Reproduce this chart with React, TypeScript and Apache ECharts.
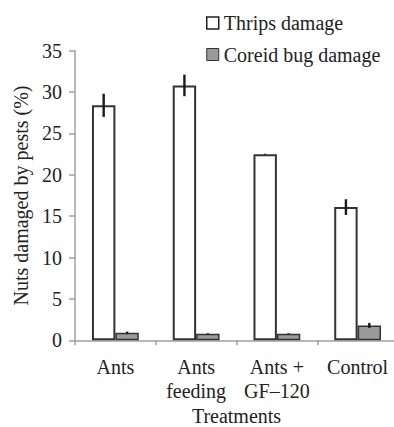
import React, { useEffect, useRef } from "react";
import * as echarts from "echarts";

const categories = ["Ants", "Ants\nfeeding", "Ants +\nGF–120", "Control"];
const thrips = [28.4, 30.8, 22.5, 16.1];
const thripsErr = [1.4, 1.3, 0.05, 0.95];
const coreid = [0.9, 0.8, 0.8, 1.8];
const coreidErr = [0.15, 0.05, 0.05, 0.3];
const yTicks = [0, 5, 10, 15, 20, 25, 30, 35];

const FONT = "Liberation Serif";
const BAR_W = 23.4;

function errSeries(name: string, vals: number[], errs: number[], dir: number) {
  return {
    type: "custom",
    name: name + " err",
    z: 10,
    data: vals.map((v, i) => [i, v, errs[i]]),
    renderItem: (params: any, api: any) => {
      const i = api.value(0);
      const v = api.value(1);
      const e = api.value(2);
      const top = api.coord([i, v + e]);
      const bot = api.coord([i, v - e]);
      const x = top[0] + dir * BAR_W / 2;
      return {
        type: "line",
        shape: { x1: x, y1: top[1], x2: x, y2: bot[1] },
        style: { stroke: "#1a1a1a", lineWidth: 2.4 },
      };
    },
    silent: true,
  };
}

export default function App() {
  const ref = useRef<HTMLDivElement>(null);
  useEffect(() => {
    document.body.style.margin = "0";
    const chart = echarts.init(ref.current!, null, { renderer: "svg" });
    chart.setOption({
      animation: false,
      textStyle: { fontFamily: FONT },
      legend: {
        orient: "vertical",
        left: 206,
        top: 13,
        padding: 0,
        itemWidth: 12,
        itemHeight: 12,
        itemGap: 11.5,
        textStyle: { fontFamily: FONT, fontSize: 20, color: "#222" },
        data: [
          { name: "Thrips damage", icon: "rect", itemStyle: { color: "#fff", borderColor: "#222", borderWidth: 1.5 } },
          { name: "Coreid bug damage", icon: "rect", itemStyle: { color: "#9a9a9c", borderColor: "#333", borderWidth: 1 } },
        ],
      },
      grid: { left: 75, top: 50.7, bottom: 86.7, right: -4, containLabel: false, outerBoundsMode: "none" },
      xAxis: {
        type: "category",
        data: categories,
        name: "Treatments",
        nameLocation: "middle",
        nameGap: 66,
        nameMoveOverlap: false,
        nameTextStyle: { fontFamily: FONT, fontSize: 20, lineHeight: 20, color: "#222" },
        axisLine: { lineStyle: { color: "#a0a0a0", width: 1.5 } },
        axisTick: { show: true, length: 5, lineStyle: { color: "#a0a0a0", width: 1.5 } },
        axisLabel: { fontFamily: FONT, fontSize: 20, color: "#222", margin: 15, lineHeight: 23.5, interval: 0 },
      },
      yAxis: {
        type: "value",
        min: 0,
        max: 35,
        interval: 5,
        name: "Nuts damaged by pests (%)",
        nameLocation: "middle",
        nameGap: 44,
        nameMoveOverlap: false,
        nameTextStyle: { fontFamily: FONT, fontSize: 20, color: "#222" },
        axisLine: { show: true, lineStyle: { color: "#a0a0a0", width: 1.5 } },
        axisTick: { show: true, length: 6, lineStyle: { color: "#a0a0a0", width: 1.5 } },
        axisLabel: {
          fontFamily: FONT,
          fontSize: 20,
          color: "#222",
          margin: 13,
          formatter: (v: number) => (yTicks.includes(v) ? String(v) : ""),
        },
        splitLine: { show: false },
      },
      series: [
        {
          name: "Thrips damage",
          type: "bar",
          data: thrips,
          barWidth: BAR_W,
          barGap: "0%",
          itemStyle: { color: "#fff", borderColor: "#333", borderWidth: 2 },
        },
        {
          name: "Coreid bug damage",
          type: "bar",
          data: coreid,
          barWidth: BAR_W,
          barGap: "0%",
          itemStyle: { color: "#9a9a9c", borderColor: "#333", borderWidth: 1.5 },
        },
        errSeries("Thrips damage", thrips, thripsErr, -1),
        errSeries("Coreid bug damage", coreid, coreidErr, 1),
      ],
    });
    return () => chart.dispose();
  }, []);
  return <div ref={ref} style={{ width: 394, height: 427 }} />;
}
